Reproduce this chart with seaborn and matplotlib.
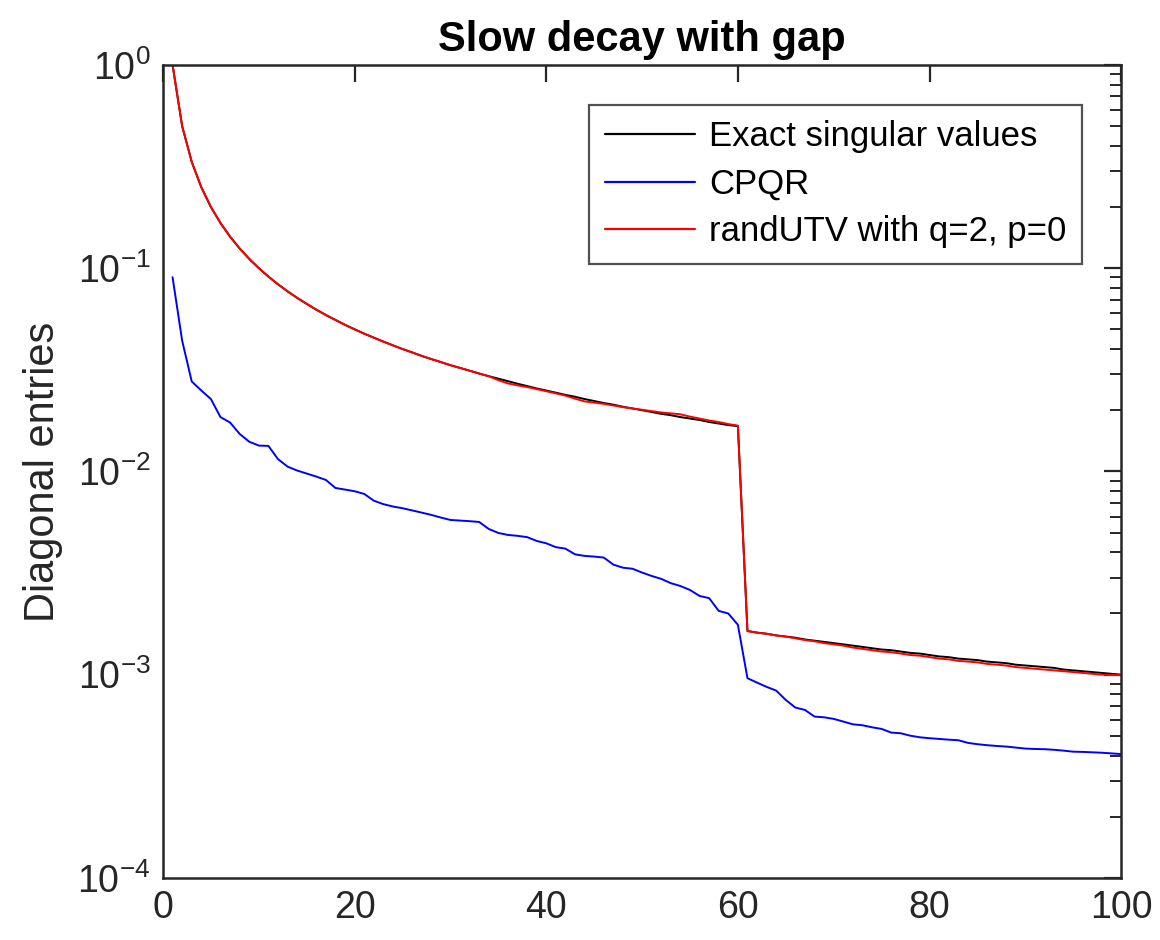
import matplotlib
matplotlib.use("Agg")
import matplotlib.pyplot as plt
import matplotlib.ticker as mticker
import numpy as np
import pandas as pd
import seaborn as sns

# ---- data ----
index = list(range(1, 101))

exact = [
    1.0, 0.5, 0.3333, 0.25, 0.2, 0.1667, 0.1429, 0.125, 0.1111, 0.1,
    0.0909, 0.0833, 0.0769, 0.0714, 0.0667, 0.0625, 0.0588, 0.0556, 0.0526, 0.05,
    0.0476, 0.0455, 0.0435, 0.0417, 0.04, 0.0385, 0.037, 0.0357, 0.0345, 0.0333,
    0.0323, 0.0313, 0.0303, 0.0294, 0.0286, 0.0278, 0.027, 0.0263, 0.0256, 0.025,
    0.0244, 0.0238, 0.0233, 0.0227, 0.0222, 0.0217, 0.0213, 0.0208, 0.0204, 0.02,
    0.0196, 0.0192, 0.0189, 0.0185, 0.0182, 0.0179, 0.0175, 0.0172, 0.0169, 0.0167,
    0.00164, 0.00161, 0.00159, 0.00156, 0.00154, 0.00152, 0.00149, 0.00147, 0.00145, 0.00143,
    0.00141, 0.00139, 0.00137, 0.00135, 0.00133, 0.00132, 0.0013, 0.00128, 0.00127, 0.00125,
    0.00123, 0.00122, 0.0012, 0.00119, 0.00118, 0.00116, 0.00115, 0.00114, 0.00112, 0.00111,
    0.0011, 0.00109, 0.00108, 0.00106, 0.00105, 0.00104, 0.00103, 0.00102, 0.00101, 0.001,
]

cpqr = [
    0.0902, 0.044, 0.0277, 0.025, 0.0227, 0.0185, 0.0174, 0.0153, 0.014, 0.0134,
    0.01335, 0.0115, 0.01056, 0.0101, 0.00976, 0.00943, 0.00908, 0.00829, 0.00814, 0.00799,
    0.00775, 0.00718, 0.0069, 0.00672, 0.00659, 0.00643, 0.00627, 0.00611, 0.00593, 0.00577,
    0.00573, 0.00569, 0.00564, 0.00521, 0.00498, 0.00487, 0.00482, 0.00475, 0.00455, 0.00443,
    0.00424, 0.00417, 0.00391, 0.00384, 0.00381, 0.00377, 0.00348, 0.00336, 0.00332, 0.00318,
    0.00306, 0.00296, 0.00282, 0.00273, 0.00261, 0.00244, 0.00238, 0.00206, 0.002, 0.00176,
    0.000961, 0.000914, 0.000871, 0.000835, 0.000751, 0.000689, 0.000671, 0.000622, 0.000617, 0.000606,
    0.000588, 0.00057, 0.000564, 0.000551, 0.000541, 0.000519, 0.000515, 0.000501, 0.000492, 0.000487,
    0.000483, 0.000479, 0.000476, 0.000462, 0.000455, 0.00045, 0.000446, 0.000443, 0.000438, 0.000433,
    0.000431, 0.00043, 0.000427, 0.000423, 0.000418, 0.000417, 0.000415, 0.000413, 0.00041, 0.000407,
]

randutv = [
    1.0, 0.5, 0.3333, 0.25, 0.2, 0.1667, 0.1429, 0.125, 0.1111, 0.1,
    0.0909, 0.0833, 0.0769, 0.0714, 0.0667, 0.0625, 0.0588, 0.0556, 0.0526, 0.05,
    0.0476, 0.0455, 0.0435, 0.0417, 0.04, 0.0385, 0.037, 0.0357, 0.0345, 0.0333,
    0.0323, 0.0313, 0.0303, 0.0294, 0.0281, 0.0271, 0.0265, 0.026, 0.0254, 0.0248,
    0.0242, 0.0236, 0.0228, 0.0221, 0.0218, 0.0215, 0.0211, 0.0207, 0.0204, 0.0201,
    0.0198, 0.0195, 0.0193, 0.0191, 0.0186, 0.0182, 0.0178, 0.0175, 0.0171, 0.0168,
    0.00164, 0.00161, 0.00159, 0.00156, 0.00154, 0.00151, 0.00148, 0.00146, 0.00143, 0.00141,
    0.00139, 0.00136, 0.00134, 0.00132, 0.0013, 0.00129, 0.00127, 0.00125, 0.00124, 0.00122,
    0.0012, 0.00119, 0.00117, 0.00116, 0.00115, 0.00113, 0.00112, 0.00111, 0.00109, 0.00108,
    0.00107, 0.00106, 0.00105, 0.00104, 0.00103, 0.00102, 0.00101, 0.001, 0.000996, 0.000995,
]

labels = ["Exact singular values", "CPQR", "randUTV with q=2, p=0"]
colors = ["#000000", "#0000ff", "#ff0000"]

df = pd.DataFrame({
    "index": index * 3,
    "value": exact + cpqr + randutv,
    "series": [labels[0]] * 100 + [labels[1]] * 100 + [labels[2]] * 100,
})

# ---- style ----
sns.set_theme(style="white")
plt.rcParams["font.family"] = ["Liberation Sans", "DejaVu Sans"]
plt.rcParams["mathtext.default"] = "regular"
plt.rcParams["axes.unicode_minus"] = False

fig = plt.figure(figsize=(11.6, 9.4), dpi=100)
ax = fig.add_axes([0.1405, 0.066, 0.826, 0.865])

sns.lineplot(data=df, x="index", y="value", hue="series", hue_order=labels,
             palette=dict(zip(labels, colors)), linewidth=1.4, ax=ax,
             legend=True, estimator=None, sort=False)

ax.set_yscale("log")
ax.set_xlim(0, 100)
ax.set_ylim(1e-4, 1e0)
ax.set_xticks([0, 20, 40, 60, 80, 100])
ax.yaxis.set_major_locator(mticker.LogLocator(base=10, numticks=10))
ax.yaxis.set_minor_locator(mticker.LogLocator(base=10, subs=np.arange(2, 10), numticks=20))
ax.yaxis.set_minor_formatter(mticker.NullFormatter())

for s in ax.spines.values():
    s.set_visible(True)
    s.set_color("#262626")
    s.set_linewidth(1.8)

ax.tick_params(axis="both", which="both", direction="in", top=True, right=True,
               color="#262626", labelcolor="#262626")
ax.tick_params(axis="both", which="major", length=12, width=1.6, labelsize=27, pad=9)
ax.tick_params(axis="y", which="minor", length=8, width=1.4)

ax.set_xlabel("")
ax.set_ylabel("Diagonal entries", fontsize=30, color="#262626", labelpad=10)
ax.set_title("Slow decay with gap", fontsize=30, fontweight="bold", pad=10,
             color="#000000")

leg = ax.legend(loc="upper right", bbox_to_anchor=(0.959, 0.951), borderaxespad=0,
                fontsize=25, frameon=True, fancybox=False, handlelength=2.6,
                handletextpad=0.4, labelspacing=0.42, borderpad=0.45)
leg.get_frame().set_edgecolor("#262626")
leg.get_frame().set_linewidth(1.6)
for line in leg.get_lines():
    line.set_linewidth(1.6)
for t in leg.get_texts():
    t.set_color("#000000")

fig.savefig("out.png", dpi=100)
